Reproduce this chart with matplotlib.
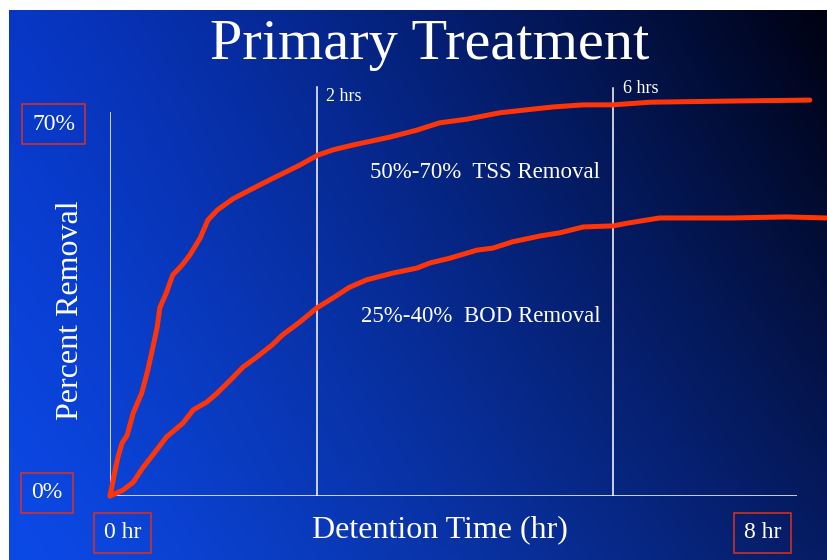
import numpy as np
import matplotlib
matplotlib.use("Agg")
import matplotlib.pyplot as plt

# ==========================
# DATA
# ==========================

# detention time axis runs 0..8 hr (schematic)
tss_hr  = [0.0, 0.06, 0.09, 0.14, 0.20, 0.27, 0.37, 0.44, 0.50, 0.55, 0.58,
           0.66, 0.73, 0.84, 0.93, 1.05, 1.14, 1.25, 1.43, 1.63, 1.86, 2.21,
           2.42, 2.60, 2.83, 3.26, 3.57, 3.84, 4.16, 4.54, 4.93, 5.16, 5.51,
           5.86, 6.29, 7.14, 8.15]
tss_pct = [0.0, 4.9, 7.2, 10.0, 11.5, 15.7, 19.5, 23.8, 28.2, 32.0, 35.6,
           38.6, 41.8, 43.7, 45.6, 48.8, 52.2, 54.1, 56.2, 57.9, 59.8, 62.6,
           64.5, 65.5, 66.4, 67.9, 69.2, 70.6, 71.3, 72.5, 73.2, 73.6, 74.0,
           74.0, 74.5, 74.7, 74.9]

bod_hr  = [0.0, 0.15, 0.27, 0.38, 0.50, 0.66, 0.85, 0.97, 1.13, 1.25, 1.40,
           1.55, 1.71, 1.89, 2.01, 2.21, 2.41, 2.60, 2.79, 2.99, 3.30, 3.57,
           3.73, 3.96, 4.27, 4.46, 4.69, 5.01, 5.24, 5.51, 5.86, 6.02, 6.40,
           7.25, 7.88, 8.35]
bod_pct = [0.0, 1.1, 2.6, 5.3, 7.8, 11.2, 13.8, 16.3, 17.8, 19.5, 21.9,
           24.4, 26.3, 28.6, 30.5, 32.9, 35.6, 37.5, 39.5, 40.9, 42.2, 43.1,
           44.1, 45.0, 46.5, 46.9, 48.1, 49.2, 49.8, 50.9, 51.1, 51.6, 52.6,
           52.6, 52.8, 52.6]

marker_pos    = [2.41, 5.86]
marker_labels = ["2 hrs", "6 hrs"]
marker_top    = [77.3, 77.1]
marker_lab_y  = [75.6, 77.0]

# ==========================
# STYLE
# ==========================

W, H = 827, 560
SERIF = ["Liberation Serif", "DejaVu Serif"]
WHITE = "#ffffff"
RED   = "#ff3508"
BOXED = "#e0301e"

def px(x, y):
    """pixel position -> figure fraction"""
    return x / W, 1 - y / H

fig = plt.figure(figsize=(W / 100, H / 100), dpi=100)
fig.patch.set_facecolor("white")

# ── gradient background ──────────────────────────────────────────────────────
bg = fig.add_axes([9 / W, 0, 1 - 9 / W, 1 - 10 / H])
gw, gh = 400, 300
xn = np.linspace(0, 1, gw)[None, :, None] ** 1.15
yn = np.linspace(0, 1, gh)[:, None, None]          # 0 = top
tl = np.array([8, 55, 198]) / 255
bl = np.array([12, 74, 232]) / 255
tr = np.array([0, 2, 18]) / 255
br = np.array([6, 28, 100]) / 255
grad = (tl * (1 - xn) * (1 - yn) + bl * (1 - xn) * yn
        + tr * xn * (1 - yn) + br * xn * yn)
bg.imshow(grad, aspect="auto", extent=[0, 1, 0, 1], interpolation="bilinear")
bg.axis("off")

# ── main axes ────────────────────────────────────────────────────────────────
x0, x1 = px(110, 0)[0], px(827, 0)[0]
y0, y1 = px(0, 496)[1], px(0, 80)[1]
ax = fig.add_axes([x0, y0, x1 - x0, y1 - y0])
ax.set_facecolor("none")
ax.set_xlim(0, 8.35)
ax.set_ylim(0, 78.7)
for s in ax.spines.values():
    s.set_visible(False)
ax.set_xticks([])
ax.set_yticks([])

# axis lines
ax.plot([0, 0], [0, 72.6], color=WHITE, lw=1.1, solid_capstyle="butt")
ax.plot([0, 8.0], [0, 0], color=WHITE, lw=1.1, solid_capstyle="butt")

# time markers
for xp, lab, top, ly in zip(marker_pos, marker_labels, marker_top, marker_lab_y):
    ax.plot([xp, xp], [0, top], color=WHITE, lw=1.1)
    ax.text(xp + 0.11, ly, lab, color=WHITE, fontsize=13,
            family=SERIF, ha="left", va="center")

# curves
ax.plot(tss_hr, tss_pct, color=RED, lw=3.6, solid_capstyle="round",
        solid_joinstyle="round", clip_on=False)
ax.plot(bod_hr, bod_pct, color=RED, lw=3.6, solid_capstyle="round",
        solid_joinstyle="round", clip_on=False)

# ── texts ────────────────────────────────────────────────────────────────────
fig.text(*px(430, 45), "Primary Treatment", color=WHITE, fontsize=42,
         family=SERIF, ha="center", va="center")
fig.text(*px(70, 310), "Percent Removal", color=WHITE, fontsize=23,
         family=SERIF, ha="center", va="center", rotation=90)
fig.text(*px(440, 530), "Detention Time (hr)", color=WHITE, fontsize=23,
         family=SERIF, ha="center", va="center")
fig.text(*px(485, 172), "50%-70%  TSS Removal", color=WHITE, fontsize=16.5,
         family=SERIF, ha="center", va="center")
fig.text(*px(481, 317), "25%-40%  BOD Removal", color=WHITE, fontsize=16.5,
         family=SERIF, ha="center", va="center")

box = dict(boxstyle="square,pad=0.42", fc="none", ec=BOXED, lw=1.1)
for (bx, by), lab in [((53.5, 124), "70%"), ((47, 493), "0%"),
                      ((122.5, 533), "0 hr"), ((762.5, 533), "8 hr")]:
    fig.text(*px(bx, by), lab, color=WHITE, fontsize=17, family=SERIF,
             ha="center", va="center", bbox=box)

fig.savefig("out.png", dpi=100, facecolor=fig.get_facecolor())
plt.close()
